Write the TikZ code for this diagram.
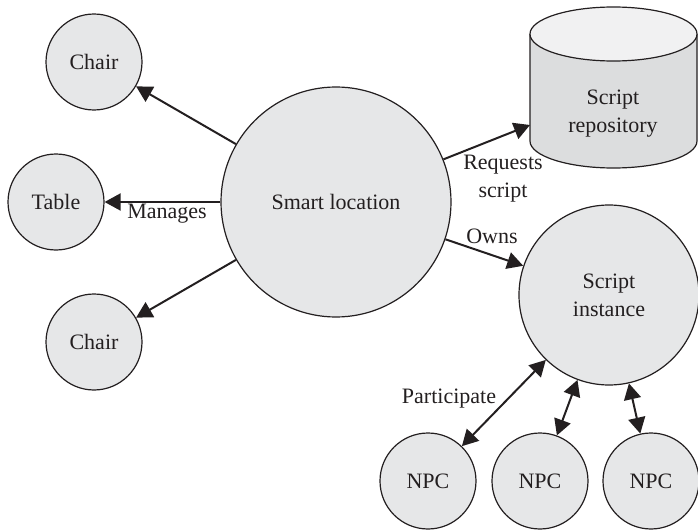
\documentclass[tikz,border=0pt]{standalone}
\usepackage{fontspec}
\setmainfont{Liberation Serif}
\usetikzlibrary{arrows.meta}
\definecolor{ink}{HTML}{231F20}
\definecolor{nodefill}{HTML}{E6E7E8}
\definecolor{cyltop}{HTML}{F1F1F2}
\definecolor{cylbody}{HTML}{DCDDDE}
\tikzset{
  ball/.style={circle, draw=ink, line width=0.6pt, fill=nodefill, inner sep=0pt, text=ink, align=center, font=\fontsize{11}{14}\selectfont},
  lbl/.style={text=ink, align=center, inner sep=0pt, font=\fontsize{11}{14}\selectfont},
  arr/.style={draw=ink, line width=1pt, -{Triangle[length=8pt,width=8.5pt]}},
  darr/.style={draw=ink, line width=1pt, {Triangle[length=8pt,width=8.5pt]}-{Triangle[length=8pt,width=8.5pt]}}
}
\begin{document}
\begin{tikzpicture}[x=0.5pt,y=-0.5pt]
\useasboundingbox (0,0) rectangle (698,530);
% cylinder (script repository)
\fill[cylbody] (530,34) -- (530,141) arc[start angle=180,end angle=0,x radius=83.5,y radius=27] -- (697,34) -- cycle;
\draw[ink, line width=0.6pt] (530,34) -- (530,141) arc[start angle=180,end angle=0,x radius=83.5,y radius=27] -- (697,34);
\draw[ink, line width=0.6pt, fill=cyltop] (613.5,34) ellipse[x radius=83.5, y radius=27];
\node[lbl] (repo) at (613,114) {Script\\repository};
\coordinate (repoL) at (530,125);
% nodes
\node[ball, minimum size=115pt] (smart) at (336,202) {Smart location};
\node[ball, minimum size=48pt] (chair1) at (94,62) {Chair};
\node[ball, minimum size=48pt] (table) at (56,202) {Table};
\node[ball, minimum size=48pt] (chair2) at (94,342) {Chair};
\node[ball, minimum size=90pt] (inst) at (609,295) {Script\\instance};
\node[ball, minimum size=48pt] (npc1) at (428,481) {NPC};
\node[ball, minimum size=48pt] (npc2) at (540,481) {NPC};
\node[ball, minimum size=48pt] (npc3) at (651,481) {NPC};
% connectors
\draw[arr] (smart) -- (chair1);
\draw[arr] (smart) -- (table);
\draw[arr] (smart) -- (chair2);
\draw[arr] (smart) -- (repoL);
\draw[arr] (smart) -- (inst);
\draw[darr] (npc1) -- (inst);
\draw[darr] (npc2) -- (inst);
\draw[darr] (npc3) -- (inst);
% labels
\node[lbl] (lmanages) at (167,214) {Manages};
\node[lbl] (lrequests) at (503,179) {Requests\\script};
\node[lbl] (lowns) at (492,236) {Owns};
\node[lbl] (lpart) at (449,399) {Participate};
\end{tikzpicture}
\end{document}
